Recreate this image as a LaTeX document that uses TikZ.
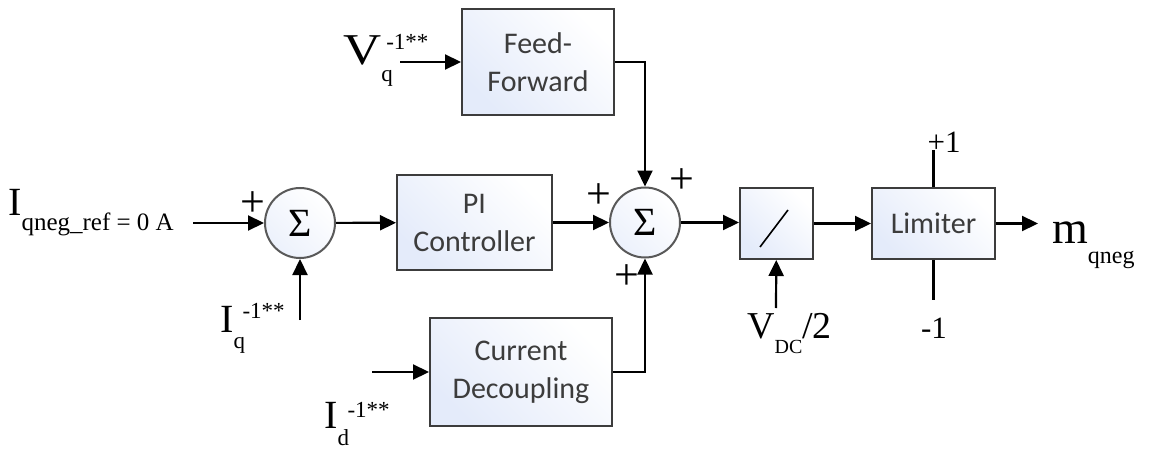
\documentclass[tikz,border=0pt]{standalone}
\usepackage{fontspec}
\setmainfont{Liberation Serif}
\newfontfamily\boxfont{Carlito}
\usetikzlibrary{arrows.meta}
\definecolor{boxl}{RGB}{228,235,250}
\definecolor{edge}{RGB}{60,60,60}
\definecolor{btext}{RGB}{60,60,60}
\newcommand{\syml}[7]{{\fontsize{#1}{#1}\selectfont #2}{\fontsize{#3}{#3}\selectfont\rlap{\raisebox{-#4pt}{#5}}\raisebox{#6pt}{#7}}}
\tikzset{
  blk/.style={draw=edge, line width=2pt, left color=boxl, right color=white, shading angle=135,
    align=center, text=btext, font=\boxfont\fontsize{30}{38}\selectfont, inner sep=0pt},
  sumc/.style={circle, draw=edge!85, line width=2pt, left color=boxl!70, right color=white, shading angle=135,
    minimum size=70pt, inner sep=0pt, font=\fontsize{40}{40}\selectfont},
  arr/.style={line width=2.2pt, -{Triangle[length=16pt,width=15pt]}},
  ln/.style={line width=2.2pt},
  lbl/.style={anchor=base west, inner sep=0pt},
  pl/.style={inner sep=0pt, font=\fontsize{44}{44}\selectfont},
}
\begin{document}
\begin{tikzpicture}[x=1pt,y=-1pt]
\useasboundingbox (0,0) rectangle (1149,452);
% blocks
\node[blk, minimum width=152pt, minimum height=106pt] (ff) at (538,62) {Feed-\\Forward};
\node[blk, minimum width=155pt, minimum height=95pt] (pi) at (474.5,222.5) {PI\\Controller};
\node[blk, minimum width=182pt, minimum height=108pt] (cd) at (521,372) {Current\\Decoupling};
\node[blk, minimum width=73pt, minimum height=71pt] (div) at (776.5,223.5) {};
\node[blk, minimum width=123pt, minimum height=71pt] (lim) at (933.5,223.5) {Limiter};
\node[sumc] (s1) at (300,223) {Σ};
\node[sumc] (s2) at (645,222.5) {Σ};
\draw[line width=1.6pt] (760,247) -- (788,210);
% free ends
\coordinate (in1) at (193,223);
\coordinate (iq) at (300,320);
\coordinate (vq) at (400,62);
\coordinate (id) at (372,372);
\coordinate (vdc) at (776,308);
\coordinate (out) at (1038,223.5);
\coordinate (limt) at (933.5,150);
\coordinate (limb) at (933.5,300);
% connectors
\draw[arr] (in1) -- (s1);
\draw[arr] (iq) -- (s1);
\draw[arr] (s1) -- (pi);
\draw[arr] (pi.east |- s2) -- (s2);
\draw[arr] (vq) -- (ff);
\draw[arr] (ff.east) -| (s2);
\draw[arr] (id) -- (cd);
\draw[arr] (cd.east) -| (s2);
\draw[arr] (s2) -- (div.west |- s2);
\draw[arr] (vdc) -- (div);
\draw[arr] (div) -- (lim);
\draw[arr] (lim) -- (out);
\draw[ln] (lim.north) -- (limt);
\draw[ln] (lim.south) -- (limb);
% signs
\node[pl] (p1) at (253,204) {+};
\node[pl] (p2) at (599,196) {+};
\node[pl] (p3) at (682,181) {+};
\node[pl] (p4) at (627,277) {+};
% labels
\node[lbl] (l1) at (8,215) {\syml{40}{I}{25}{15}{qneg\_ref = 0 A}{0}{}};
\node[lbl] (l2) at (343,65) {\syml{44}{\scalebox{1.2}[1]{V}}{23}{17}{q}{15}{\kern5pt-1**}};
\node[lbl] (l3) at (220,332) {\syml{40}{I}{23}{16}{q}{14}{\kern9pt-1**}};
\node[lbl] (l4) at (324,428) {\syml{40}{I}{23}{17}{d}{11}{\kern10pt-1**}};
\node[lbl] (l5) at (747,338) {{\fontsize{38}{38}\selectfont V}{\fontsize{20}{20}\selectfont\raisebox{-15pt}{DC}}{\fontsize{38}{38}\selectfont /2}};
\node[lbl] (l6) at (1052,243) {{\fontsize{46}{46}\selectfont m}{\fontsize{24}{24}\selectfont\raisebox{-20pt}{qneg}}};
\node[inner sep=0pt, anchor=base, font=\fontsize{31}{31}\selectfont] (t1) at (944,152) {+1};
\node[inner sep=0pt, anchor=base, font=\fontsize{31}{31}\selectfont] (t2) at (934,338) {-1};
\end{tikzpicture}
\end{document}
